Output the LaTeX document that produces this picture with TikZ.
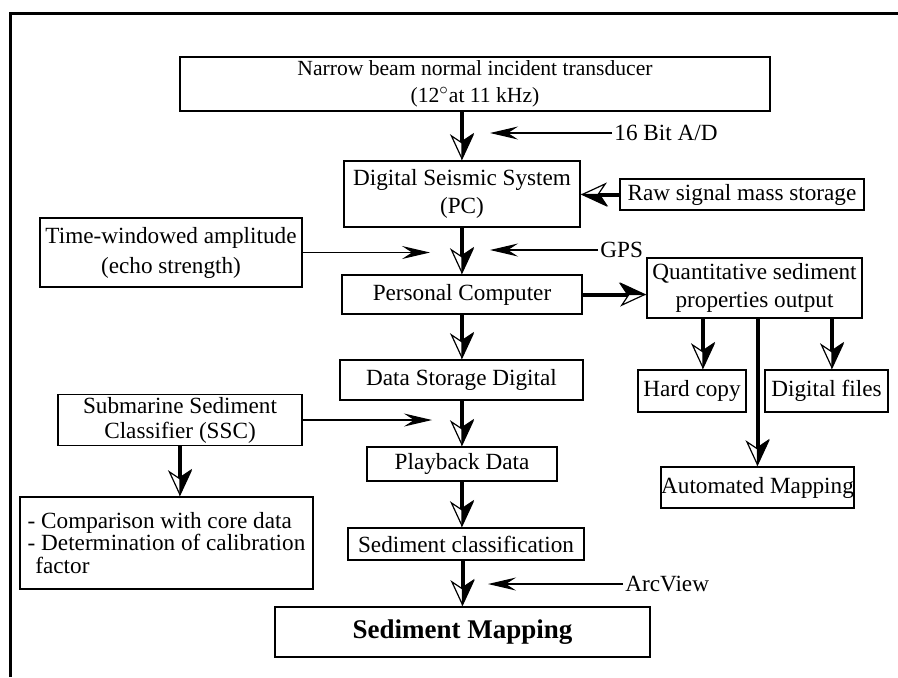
\documentclass[tikz,border=0pt]{standalone}
\usepackage{fontspec}
\setmainfont{Liberation Serif}
\usetikzlibrary{arrows.meta}

\begin{document}
\begin{tikzpicture}[x=0.5pt,y=-0.5pt,
        box/.style={draw,line width=0.8pt,inner sep=0pt,align=center,
                font=\fontsize{11.6}{14}\selectfont},
        wh/.style 2 args={minimum width=#1*0.5pt,minimum height=#2*0.5pt},
        lab/.style={inner sep=1pt,anchor=west,font=\fontsize{11.6}{14}\selectfont},
        bigarrow/.style={line width=2pt,
                -{Stealth[left,length=13pt,width=12pt,inset=4pt,line width=0.6pt]},
                postaction={draw,line width=0.6pt,
                -{Stealth[open,length=13pt,width=12pt,inset=4pt,line width=0.6pt]}}},
        thinarrow/.style={line width=0.6pt,-{Stealth[length=14pt,width=6.5pt,inset=5pt]}}]
        \useasboundingbox (0,0) rectangle (898,677);
        \draw [line width=1.5pt] (10,677) -- (10,13) -- (898,13);

        % main column
        \node[box,wh={590}{54},font=\fontsize{10.8}{13.6}\selectfont] (trans) at (475,84)
                {Narrow beam normal incident transducer\\(12$^{\circ}$at 11 kHz)};
        \node[box,wh={236}{66}] (dss) at (462,194) {Digital Seismic System\\(PC)};
        \node[box,wh={240}{39}] (pc) at (462,294.5) {Personal Computer};
        \node[box,wh={243}{40}] (dsd) at (461.5,380) {Data Storage Digital};
        \node[box,wh={190}{34}] (play) at (462,464) {Playback Data};
        \node[box,wh={236}{32}] (sedc) at (466,544) {Sediment classification};
        \node[box,wh={375}{50},font=\fontsize{13.5}{16}\selectfont\bfseries] (map) at (462.5,632)
                {Sediment Mapping};

        % side boxes
        \node[box,wh={244}{31}] (raw) at (742,194.5) {Raw signal mass storage};
        \node[box,wh={262}{69},font=\fontsize{11.6}{15}\selectfont] (time) at (171,252.5)
                {Time-windowed amplitude\\(echo strength)};
        \node[box,wh={215}{60}] (quant) at (754.5,288)
                {Quantitative sediment\\properties output};
        \node[box,wh={108}{42}] (hard) at (692,391) {Hard copy};
        \node[box,wh={123}{42}] (digf) at (826.5,391) {Digital files};
        \node[box,wh={191}{41}] (auto) at (757.5,487.5) {Automated Mapping};
        \node[box,wh={244}{51},font=\fontsize{11.6}{12.5}\selectfont] (ssc) at (180,420)
                {Submarine Sediment\\Classifier (SSC)};
        \node[box,wh={293}{92},align=left,font=\fontsize{11.6}{11.2}\selectfont] (comp) at (166.5,543)
                {- Comparison with core data\\- Determination of calibration\\\phantom{-}factor};

        % inputs
        \node[lab] (bitlab) at (612,133) {16 Bit A/D};
        \node[lab] (gpslab) at (598,250) {GPS};
        \node[lab] (arclab) at (623,584) {ArcView};
        \coordinate (bitend) at (490,133);
        \coordinate (gpsend) at (490,250);
        \coordinate (timeend) at (430,252.5);
        \coordinate (sscend) at (432,420);
        \coordinate (arcend) at (488,584);

        \draw[thinarrow] (bitlab.west) -- (bitend);
        \draw[thinarrow] (gpslab.west) -- (gpsend);
        \draw[thinarrow] (time.east) -- (timeend);
        \draw[thinarrow] (ssc.east) -- (sscend);
        \draw[thinarrow] (arclab.west) -- (arcend);

        \draw[bigarrow] (dss.north |- trans.south) -- (dss.north);
        \draw[bigarrow] (dss.south) -- (pc.north);
        \draw[bigarrow] (pc.south) -- (dsd.north -| pc.south);
        \draw[bigarrow] (dsd.south -| play.north) -- (play.north);
        \draw[bigarrow] (play.south) -- (play.south |- sedc.north);
        \draw[bigarrow] (map.north |- sedc.south) -- (map.north);
        \draw[bigarrow] (raw.west) -- (dss.east |- raw.west);
        \draw[bigarrow] (pc.east) -- (pc.east -| quant.west);
        \draw[bigarrow] ([xshift=5.5pt]hard.north |- quant.south) -- ([xshift=5.5pt]hard.north);
        \draw[bigarrow] ([xshift=2.75pt]digf.north |- quant.south) -- ([xshift=2.75pt]digf.north);
        \draw[bigarrow] (auto.north |- quant.south) -- (auto.north);
        \draw[bigarrow] (ssc.south) -- (ssc.south |- comp.north);
\end{tikzpicture}
\end{document}
